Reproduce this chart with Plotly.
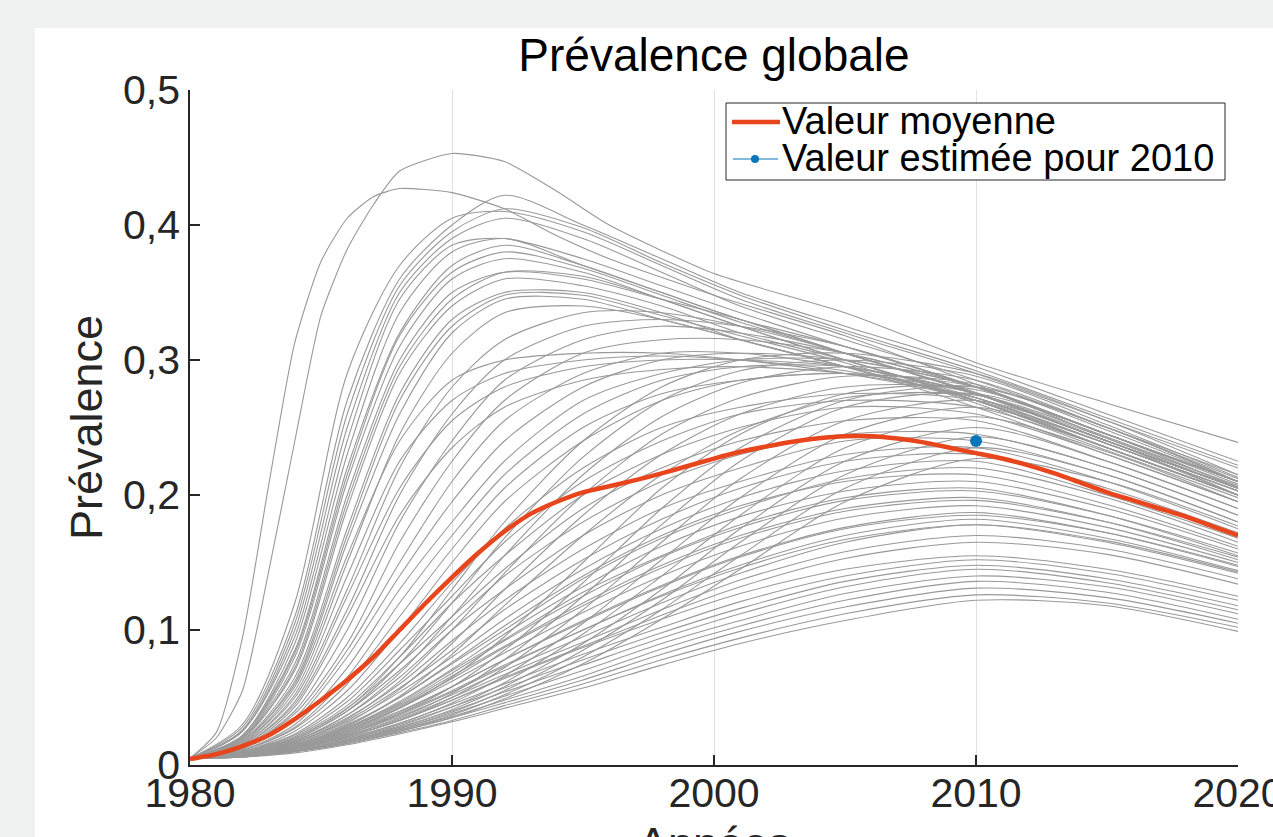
import plotly.graph_objects as go

# ---------------- data ----------------
YEARS = [1980, 1982, 1984, 1986, 1988, 1990, 1992, 1995, 1998, 2001, 2005, 2010, 2015, 2020]
YEARS_FINE = [1980, 1981, 1982, 1983, 1984, 1985, 1986, 1987, 1988, 1990, 1992, 1994, 1996, 2000, 2005, 2010, 2015, 2020]

RUNS_OUTLIER = [
    [0.005, 0.024, 0.094, 0.207, 0.313, 0.373, 0.405, 0.421, 0.427, 0.424, 0.412, 0.392, 0.375, 0.348, 0.318, 0.282, 0.242, 0.205],
    [0.005, 0.020, 0.055, 0.143, 0.240, 0.333, 0.382, 0.415, 0.440, 0.453, 0.447, 0.425, 0.400, 0.364, 0.335, 0.298, 0.268, 0.239],
]

RUNS_EARLY = [
    [0.005, 0.030, 0.120, 0.290, 0.370, 0.405, 0.410, 0.395, 0.370, 0.345, 0.320, 0.290, 0.255, 0.220],
    [0.005, 0.028, 0.110, 0.270, 0.360, 0.400, 0.422, 0.400, 0.375, 0.350, 0.325, 0.295, 0.260, 0.225],
    [0.005, 0.026, 0.105, 0.260, 0.355, 0.395, 0.412, 0.398, 0.372, 0.348, 0.322, 0.292, 0.257, 0.222],
    [0.005, 0.025, 0.100, 0.250, 0.350, 0.390, 0.405, 0.390, 0.365, 0.340, 0.315, 0.285, 0.250, 0.215],
    [0.005, 0.025, 0.095, 0.240, 0.345, 0.385, 0.390, 0.375, 0.355, 0.335, 0.310, 0.280, 0.245, 0.210],
    [0.005, 0.022, 0.090, 0.230, 0.335, 0.380, 0.390, 0.370, 0.350, 0.330, 0.305, 0.275, 0.240, 0.205],
    [0.005, 0.022, 0.085, 0.220, 0.320, 0.370, 0.385, 0.370, 0.350, 0.330, 0.310, 0.280, 0.245, 0.210],
    [0.005, 0.021, 0.083, 0.215, 0.318, 0.365, 0.380, 0.368, 0.348, 0.328, 0.305, 0.276, 0.242, 0.207],
    [0.005, 0.020, 0.080, 0.210, 0.310, 0.360, 0.375, 0.365, 0.345, 0.325, 0.300, 0.270, 0.235, 0.200],
    [0.005, 0.020, 0.075, 0.200, 0.300, 0.350, 0.365, 0.360, 0.345, 0.330, 0.305, 0.275, 0.240, 0.205],
    [0.005, 0.019, 0.072, 0.195, 0.295, 0.345, 0.365, 0.362, 0.345, 0.325, 0.300, 0.272, 0.238, 0.203],
    [0.005, 0.020, 0.070, 0.190, 0.290, 0.340, 0.360, 0.355, 0.340, 0.320, 0.300, 0.270, 0.235, 0.200],
    [0.005, 0.018, 0.065, 0.175, 0.275, 0.330, 0.350, 0.350, 0.335, 0.315, 0.295, 0.265, 0.230, 0.195],
    [0.005, 0.017, 0.062, 0.170, 0.270, 0.325, 0.348, 0.348, 0.333, 0.318, 0.298, 0.268, 0.233, 0.198],
    [0.005, 0.018, 0.060, 0.165, 0.260, 0.320, 0.345, 0.345, 0.330, 0.315, 0.295, 0.270, 0.235, 0.200],
    [0.005, 0.016, 0.055, 0.150, 0.245, 0.305, 0.335, 0.340, 0.330, 0.315, 0.295, 0.270, 0.235, 0.200],
]

RUNS_FLAT = [
    [0.005, 0.016, 0.058, 0.155, 0.240, 0.285, 0.300, 0.305, 0.305, 0.300, 0.290, 0.270, 0.235, 0.200],
    [0.005, 0.015, 0.052, 0.140, 0.225, 0.270, 0.290, 0.300, 0.303, 0.300, 0.292, 0.272, 0.238, 0.203],
    [0.005, 0.014, 0.047, 0.125, 0.205, 0.255, 0.280, 0.295, 0.300, 0.300, 0.295, 0.275, 0.240, 0.205],
    [0.005, 0.013, 0.043, 0.110, 0.185, 0.235, 0.265, 0.285, 0.293, 0.295, 0.290, 0.272, 0.238, 0.203],
]

RUNS_MID = [
    [0.005, 0.015, 0.050, 0.130, 0.220, 0.280, 0.315, 0.335, 0.335, 0.325, 0.305, 0.275, 0.240, 0.205],
    [0.005, 0.014, 0.045, 0.115, 0.200, 0.260, 0.300, 0.325, 0.330, 0.325, 0.310, 0.280, 0.245, 0.210],
    [0.005, 0.013, 0.040, 0.100, 0.180, 0.240, 0.285, 0.315, 0.325, 0.320, 0.305, 0.280, 0.245, 0.210],
    [0.005, 0.013, 0.038, 0.090, 0.165, 0.225, 0.270, 0.305, 0.315, 0.315, 0.305, 0.280, 0.245, 0.210],
    [0.005, 0.012, 0.035, 0.085, 0.150, 0.210, 0.255, 0.290, 0.305, 0.305, 0.295, 0.275, 0.240, 0.205],
    [0.005, 0.012, 0.033, 0.080, 0.140, 0.195, 0.240, 0.280, 0.300, 0.305, 0.300, 0.280, 0.245, 0.210],
    [0.005, 0.011, 0.030, 0.072, 0.130, 0.180, 0.225, 0.270, 0.290, 0.300, 0.300, 0.280, 0.245, 0.210],
    [0.005, 0.011, 0.028, 0.065, 0.120, 0.170, 0.215, 0.260, 0.285, 0.295, 0.295, 0.275, 0.240, 0.205],
    [0.005, 0.011, 0.027, 0.060, 0.110, 0.160, 0.205, 0.250, 0.275, 0.285, 0.290, 0.275, 0.240, 0.205],
    [0.005, 0.010, 0.025, 0.055, 0.100, 0.150, 0.195, 0.240, 0.270, 0.285, 0.290, 0.280, 0.245, 0.210],
]

RUNS_CROSSING = [
    [0.005, 0.009, 0.020, 0.042, 0.080, 0.130, 0.180, 0.240, 0.280, 0.300, 0.305, 0.290, 0.255, 0.215],
    [0.005, 0.009, 0.019, 0.040, 0.075, 0.120, 0.168, 0.228, 0.270, 0.292, 0.300, 0.288, 0.252, 0.213],
    [0.005, 0.009, 0.018, 0.037, 0.068, 0.110, 0.155, 0.215, 0.258, 0.283, 0.295, 0.285, 0.250, 0.212],
    [0.005, 0.008, 0.017, 0.034, 0.062, 0.100, 0.142, 0.200, 0.245, 0.272, 0.288, 0.282, 0.248, 0.210],
    [0.005, 0.008, 0.016, 0.031, 0.056, 0.090, 0.130, 0.185, 0.230, 0.260, 0.280, 0.278, 0.245, 0.208],
    [0.005, 0.008, 0.015, 0.029, 0.051, 0.082, 0.118, 0.170, 0.215, 0.248, 0.272, 0.274, 0.243, 0.206],
]

RUNS_LATE_HIGH = [
    [0.005, 0.008, 0.014, 0.025, 0.042, 0.065, 0.095, 0.150, 0.205, 0.245, 0.275, 0.280, 0.250, 0.210],
    [0.005, 0.008, 0.013, 0.023, 0.038, 0.058, 0.085, 0.135, 0.190, 0.235, 0.270, 0.280, 0.250, 0.210],
    [0.005, 0.007, 0.013, 0.022, 0.035, 0.053, 0.078, 0.125, 0.178, 0.225, 0.265, 0.275, 0.245, 0.205],
    [0.005, 0.007, 0.012, 0.021, 0.033, 0.050, 0.072, 0.115, 0.165, 0.212, 0.255, 0.270, 0.240, 0.200],
    [0.005, 0.007, 0.012, 0.020, 0.031, 0.046, 0.066, 0.105, 0.152, 0.198, 0.245, 0.265, 0.238, 0.200],
    [0.005, 0.007, 0.011, 0.019, 0.029, 0.043, 0.061, 0.097, 0.140, 0.185, 0.235, 0.258, 0.232, 0.195],
    [0.005, 0.007, 0.011, 0.018, 0.028, 0.041, 0.058, 0.090, 0.130, 0.175, 0.225, 0.250, 0.225, 0.190],
    [0.005, 0.006, 0.011, 0.018, 0.027, 0.039, 0.055, 0.085, 0.122, 0.165, 0.215, 0.243, 0.220, 0.185],
    [0.005, 0.006, 0.010, 0.017, 0.026, 0.037, 0.052, 0.080, 0.115, 0.155, 0.205, 0.235, 0.215, 0.180],
    [0.005, 0.006, 0.010, 0.016, 0.025, 0.035, 0.049, 0.075, 0.108, 0.145, 0.195, 0.227, 0.210, 0.177],
]

RUNS_SLOW = [
    [0.005, 0.010, 0.023, 0.050, 0.090, 0.135, 0.175, 0.220, 0.250, 0.265, 0.275, 0.270, 0.235, 0.200],
    [0.005, 0.010, 0.022, 0.047, 0.085, 0.125, 0.165, 0.210, 0.240, 0.260, 0.270, 0.265, 0.235, 0.200],
    [0.005, 0.010, 0.021, 0.044, 0.080, 0.120, 0.155, 0.200, 0.230, 0.250, 0.265, 0.260, 0.230, 0.195],
    [0.005, 0.010, 0.020, 0.042, 0.075, 0.110, 0.145, 0.190, 0.220, 0.240, 0.255, 0.255, 0.225, 0.190],
    [0.005, 0.009, 0.019, 0.040, 0.070, 0.105, 0.140, 0.180, 0.210, 0.230, 0.245, 0.245, 0.220, 0.185],
    [0.005, 0.009, 0.018, 0.037, 0.065, 0.100, 0.130, 0.170, 0.200, 0.220, 0.240, 0.240, 0.215, 0.180],
    [0.005, 0.009, 0.018, 0.035, 0.060, 0.092, 0.122, 0.160, 0.190, 0.210, 0.230, 0.235, 0.210, 0.175],
    [0.005, 0.009, 0.017, 0.033, 0.057, 0.085, 0.115, 0.152, 0.182, 0.205, 0.225, 0.230, 0.205, 0.172],
    [0.005, 0.009, 0.017, 0.032, 0.054, 0.080, 0.108, 0.145, 0.175, 0.198, 0.218, 0.225, 0.200, 0.168],
    [0.005, 0.008, 0.016, 0.030, 0.050, 0.075, 0.100, 0.138, 0.168, 0.190, 0.212, 0.220, 0.198, 0.165],
]

RUNS_LOWER_MID = [
    [0.005, 0.008, 0.015, 0.029, 0.050, 0.076, 0.103, 0.140, 0.170, 0.192, 0.210, 0.215, 0.193, 0.162],
    [0.005, 0.008, 0.015, 0.028, 0.047, 0.071, 0.097, 0.132, 0.162, 0.184, 0.203, 0.210, 0.190, 0.160],
    [0.005, 0.008, 0.014, 0.027, 0.045, 0.068, 0.092, 0.125, 0.154, 0.176, 0.196, 0.203, 0.185, 0.157],
    [0.005, 0.008, 0.014, 0.026, 0.043, 0.064, 0.087, 0.118, 0.146, 0.168, 0.188, 0.196, 0.180, 0.154],
    [0.005, 0.007, 0.013, 0.024, 0.039, 0.058, 0.078, 0.106, 0.132, 0.154, 0.175, 0.185, 0.172, 0.148],
    [0.005, 0.007, 0.013, 0.023, 0.037, 0.054, 0.073, 0.100, 0.125, 0.146, 0.167, 0.178, 0.166, 0.143],
]

RUNS_LOW = [
    [0.005, 0.008, 0.015, 0.028, 0.046, 0.070, 0.093, 0.128, 0.155, 0.178, 0.198, 0.205, 0.185, 0.155],
    [0.005, 0.008, 0.015, 0.027, 0.044, 0.066, 0.088, 0.120, 0.148, 0.170, 0.190, 0.198, 0.180, 0.152],
    [0.005, 0.008, 0.014, 0.026, 0.042, 0.062, 0.083, 0.113, 0.140, 0.162, 0.183, 0.192, 0.176, 0.150],
    [0.005, 0.008, 0.014, 0.025, 0.040, 0.058, 0.078, 0.107, 0.133, 0.155, 0.176, 0.187, 0.172, 0.147],
    [0.005, 0.007, 0.013, 0.024, 0.038, 0.055, 0.074, 0.100, 0.126, 0.148, 0.170, 0.182, 0.168, 0.144],
    [0.005, 0.007, 0.013, 0.023, 0.036, 0.052, 0.070, 0.095, 0.120, 0.142, 0.165, 0.178, 0.165, 0.142],
    [0.005, 0.007, 0.012, 0.022, 0.034, 0.050, 0.067, 0.091, 0.115, 0.137, 0.158, 0.170, 0.160, 0.138],
    [0.005, 0.007, 0.012, 0.021, 0.033, 0.048, 0.065, 0.088, 0.111, 0.132, 0.153, 0.165, 0.156, 0.134],
]

RUNS_BOTTOM = [
    [0.005, 0.007, 0.012, 0.021, 0.033, 0.048, 0.064, 0.087, 0.108, 0.127, 0.145, 0.155, 0.145, 0.125],
    [0.005, 0.007, 0.012, 0.020, 0.031, 0.045, 0.060, 0.082, 0.102, 0.121, 0.140, 0.152, 0.142, 0.122],
    [0.005, 0.007, 0.011, 0.019, 0.030, 0.043, 0.057, 0.078, 0.098, 0.116, 0.136, 0.148, 0.138, 0.118],
    [0.005, 0.007, 0.011, 0.018, 0.028, 0.040, 0.054, 0.074, 0.094, 0.112, 0.132, 0.145, 0.135, 0.115],
    [0.005, 0.007, 0.011, 0.018, 0.027, 0.038, 0.051, 0.070, 0.090, 0.107, 0.127, 0.140, 0.132, 0.112],
    [0.005, 0.006, 0.010, 0.017, 0.026, 0.036, 0.048, 0.066, 0.086, 0.103, 0.122, 0.136, 0.128, 0.108],
    [0.005, 0.006, 0.010, 0.016, 0.025, 0.035, 0.046, 0.063, 0.082, 0.099, 0.117, 0.131, 0.124, 0.105],
    [0.005, 0.006, 0.010, 0.016, 0.024, 0.033, 0.044, 0.060, 0.078, 0.094, 0.112, 0.126, 0.120, 0.102],
    [0.005, 0.006, 0.009, 0.015, 0.023, 0.032, 0.042, 0.057, 0.074, 0.090, 0.107, 0.122, 0.118, 0.099],
]

MEAN_YEARS = list(range(1980, 2021))
MEAN = [0.0045, 0.008, 0.014, 0.022, 0.034, 0.048, 0.063, 0.080, 0.100, 0.120,
        0.139, 0.157, 0.173, 0.186, 0.195, 0.202, 0.2065, 0.211, 0.216, 0.2215,
        0.227, 0.232, 0.236, 0.2395, 0.242, 0.2435, 0.2435, 0.2418, 0.239, 0.235,
        0.231, 0.227, 0.222, 0.216, 0.209, 0.202, 0.196, 0.190, 0.184, 0.177, 0.170]

EST_YEAR = [2010]
EST_VALUE = [0.24]

Y_TICKS = [0, 0.1, 0.2, 0.3, 0.4, 0.5]
Y_TICK_TEXT = ["0", "0,1", "0,2", "0,3", "0,4", "0,5"]
X_TICKS = [1980, 1990, 2000, 2010, 2020]

LEGEND_LABELS = ["Valeur moyenne", "Valeur estimée pour 2010"]

# ---------------- styles ----------------
GRAY = "#999999"
RED = "#e8451c"
BLUE = "#0876b8"
AXIS = "#262626"
FONT = "Liberation Sans, Arial, Helvetica, sans-serif"

fig = go.Figure()

for run in RUNS_OUTLIER:
    fig.add_trace(go.Scatter(x=YEARS_FINE, y=run, mode="lines",
                             line=dict(color=GRAY, width=1.1, shape="spline", smoothing=0.6),
                             showlegend=False, hoverinfo="skip"))
for group in (RUNS_EARLY, RUNS_FLAT, RUNS_MID, RUNS_CROSSING, RUNS_LATE_HIGH,
              RUNS_SLOW, RUNS_LOWER_MID, RUNS_LOW, RUNS_BOTTOM):
    for run in group:
        fig.add_trace(go.Scatter(x=YEARS, y=run, mode="lines",
                                 line=dict(color=GRAY, width=1.1, shape="spline", smoothing=0.8),
                                 showlegend=False, hoverinfo="skip"))

fig.add_trace(go.Scatter(x=MEAN_YEARS, y=MEAN, mode="lines", name=LEGEND_LABELS[0],
                         line=dict(color=RED, width=4.5, shape="spline", smoothing=0.5),
                         showlegend=False))
fig.add_trace(go.Scatter(x=EST_YEAR, y=EST_VALUE, mode="lines+markers",
                         name=LEGEND_LABELS[1], line=dict(color=BLUE, width=1),
                         marker=dict(color=BLUE, size=12), showlegend=False))

W, H = 1273, 837
L, R, T, B = 190, 35, 90, 72
PW, PH = W - L - R, H - T - B


def px_x(px):
    return (px - L) / PW


def px_y(py):
    return (H - B - py) / PH


# white figure panel on the grey window background
fig.add_shape(type="rect", xref="paper", yref="paper",
              x0=px_x(35), x1=px_x(1300), y0=px_y(900), y1=px_y(28),
              fillcolor="white", line=dict(width=0), layer="below")

# legend box (drawn by hand to match the compact MATLAB legend)
fig.add_shape(type="rect", xref="paper", yref="paper",
              x0=px_x(726), x1=px_x(1225), y0=px_y(180), y1=px_y(103),
              fillcolor="white", line=dict(color=AXIS, width=1), layer="above")
fig.add_shape(type="line", xref="paper", yref="paper",
              x0=px_x(732), x1=px_x(780), y0=px_y(122), y1=px_y(122),
              line=dict(color=RED, width=4.5), layer="above")
fig.add_shape(type="line", xref="paper", yref="paper",
              x0=px_x(733), x1=px_x(778), y0=px_y(159), y1=px_y(159),
              line=dict(color=BLUE, width=1), layer="above")
fig.add_shape(type="circle", xref="paper", yref="paper",
              x0=px_x(751), x1=px_x(759), y0=px_y(163), y1=px_y(155),
              fillcolor=BLUE, line=dict(color=BLUE, width=0), layer="above")
for label, ly in zip(LEGEND_LABELS, (121, 158)):
    fig.add_annotation(text=label, xref="paper", yref="paper", x=px_x(781), y=px_y(ly),
                       xanchor="left", yanchor="middle", showarrow=False, borderpad=0,
                       font=dict(family=FONT, size=38, color="black"))

fig.add_annotation(text="Années", xref="paper", yref="paper", x=0.5, y=px_y(816),
                   xanchor="center", yanchor="top", showarrow=False,
                   font=dict(family=FONT, size=45, color=AXIS))

fig.update_layout(
    width=W, height=H,
    margin=dict(l=L, r=R, t=T, b=B, autoexpand=False),
    paper_bgcolor="#f0f2f1",
    plot_bgcolor="white",
    showlegend=False,
    font=dict(family=FONT, color=AXIS),
    title=dict(text="Prévalence globale", x=0.5, xref="paper", xanchor="center",
               y=1 - 55 / H, yref="container", yanchor="middle",
               font=dict(family=FONT, size=46, color="black")),
    xaxis=dict(range=[1980, 2020], tickvals=X_TICKS, ticks="inside", ticklen=10,
               tickwidth=1.5, tickcolor=AXIS, showline=True, linecolor=AXIS, linewidth=1.5,
               showgrid=True, gridcolor="#e2e2e2", gridwidth=1, zeroline=False,
               tickfont=dict(family=FONT, size=41, color=AXIS), automargin=False,
               ticklabelstandoff=-9, ticklabeloverflow="allow"),
    yaxis=dict(range=[0, 0.5], tickvals=Y_TICKS, ticktext=Y_TICK_TEXT, ticks="inside",
               ticklen=10, tickwidth=1.5, tickcolor=AXIS, showline=True, linecolor=AXIS,
               linewidth=1.5, showgrid=False, zeroline=False,
               tickfont=dict(family=FONT, size=41, color=AXIS), automargin=False,
               ticklabeloverflow="allow",
               title=dict(text="Prévalence", standoff=6,
                          font=dict(family=FONT, size=45, color=AXIS))),
)

fig.write_html(
    "out.html",
    config={"displayModeBar": False},
    post_script="document.body.style.margin='0';document.body.style.overflow='hidden';"
                "document.body.style.background='#f0f2f1';",
)
